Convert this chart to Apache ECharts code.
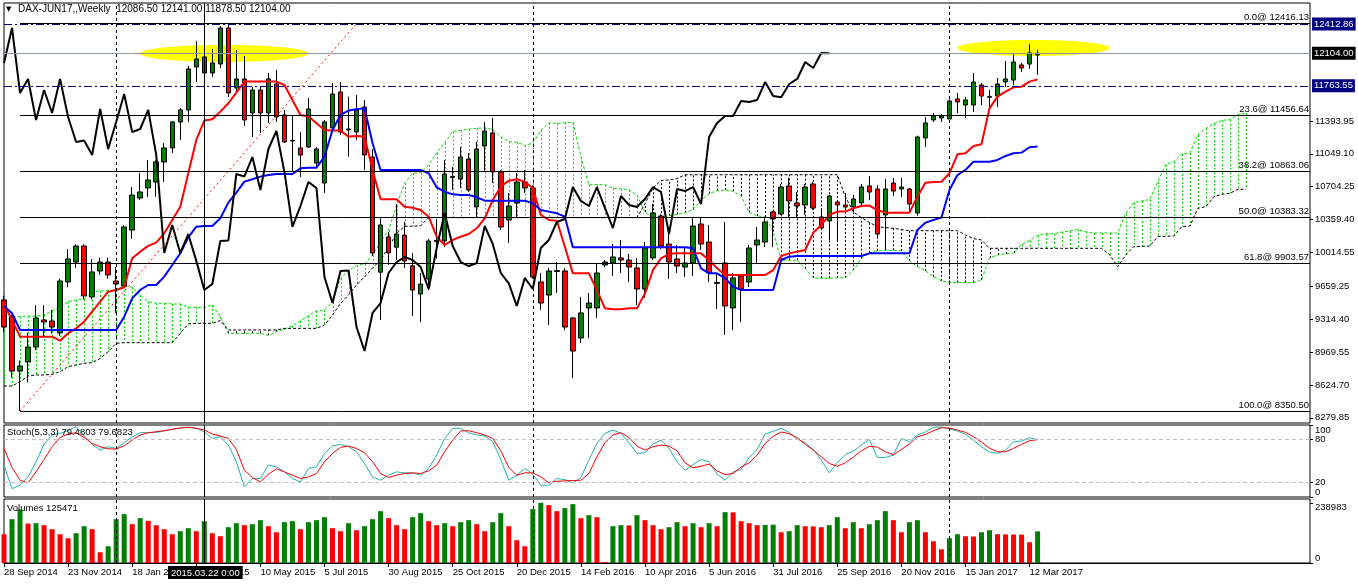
<!DOCTYPE html>
<html>
<head>
<meta charset="utf-8">
<title>DAX-JUN17 Weekly</title>
<script src="https://cdn.jsdelivr.net/npm/echarts@6.0.0/dist/echarts.min.js"></script>
<style>
html,body{margin:0;padding:0;background:#ffffff;}
#chart{width:1358px;height:584px;}
</style>
</head>
<body>
<div id="chart"></div>
<script>
// ---------- DATA ----------
const dateLabels = ['28 Sep 2014','23 Nov 2014','18 Jan 2015','15 Mar 2015','10 May 2015','5 Jul 2015','30 Aug 2015','25 Oct 2015','20 Dec 2015','14 Feb 2016','10 Apr 2016','5 Jun 2016','31 Jul 2016','25 Sep 2016','20 Nov 2016','15 Jan 2017','12 Mar 2017'];
const priceTicks = [8279.85, 8624.70, 8969.55, 9314.40, 9659.25, 10014.55, 10359.40, 10704.25, 11049.10, 11393.95];
const stochLevelTicks = [20, 80];
const stochEndTicks = [0, 100];

const opens = [9516,9337,8770,8865,9022,9306,9295,9170,9705,9914,
10082,9547,9820,9914,9715,9663,10250,10586,10691,10754,
10964,11111,11384,11510,11961,12066,11898,11992,12370,11740,
11835,11478,11719,11478,11782,11457,11184,11111,11121,10953,
10743,11321,11698,11300,11279,11541,11016,9808,10177,10070,
10197,9874,9578,9736,10130,10135,10800,10785,10995,10492,
11132,11268,10859,10355,10533,10754,10691,9705,9568,9815,
9820,9327,9117,9432,9432,9883,9904,9957,9935,9852,
9631,9957,10397,10103,9946,9862,9904,10313,10124,9700,
9904,9432,9768,9705,10093,10124,10439,10418,10712,10534,
10513,10733,10387,10345,10544,10513,10492,10534,10712,10680,
10408,10743,10680,10680,10429,11216,11405,11426,11415,11625,
11562,11562,11772,11650,11656,11803,11824,11982,11992,12086.5];
const highs = [9560,9360,8880,9170,9463,9463,9411,9740,10050,10100,
10100,9946,9960,9960,9862,10300,10702,10848,10985,10980,
11163,11394,11530,11971,12234,12080,12150,12390,12400,12139,
12076,11751,11751,11898,11929,11510,11457,11279,11635,11120,
11405,11793,11803,11650,11667,11614,11100,10387,10229,10523,
10334,10009,9799,10156,10366,10985,10911,11121,11058,11174,
11384,11426,10880,10639,10848,10880,10720,9799,9852,9914,
9850,9337,9547,9590,9893,9935,10103,10145,10000,9957,
10124,10523,10418,10282,10093,10072,10387,10376,10303,9799,
10334,9799,9778,10093,10282,10387,10450,10733,10796,10649,
10733,10754,10460,10618,10565,10639,10618,10733,10817,10722,
10785,10796,10796,10691,11240,11436,11478,11468,11620,11688,
11646,11898,11793,11719,11845,12024,12108,12003,12202,12141];
const lows = [9180,8700,8350.5,8650,8990,9130,9160,9140,9650,9850,
9520,9520,9780,9740,9380,9640,10156,10565,10597,10600,
10754,11058,11195,11384,11803,11646,11856,11950,11646,11700,
11342,11226,11268,11373,11384,11163,10869,10806,11111,10900,
10639,11300,11250,11020,11195,10880,9980,9306,9883,9935,
9852,9348,9285,9620,9950,10072,10670,10691,10649,10387,
10859,10743,10250,10114,10387,10639,9740,9411,9253,9590,
9200,8697,9065,9117,9327,9862,9768,9799,9705,9463,
9537,9935,10051,9736,9799,9757,9768,10040,9705,9421,
9149,9201,9285,9652,9904,10072,10072,10408,10387,10387,
10408,10460,10250,10145,10145,10460,10429,10492,10565,10166,
10040,10607,10597,10429,10400,11121,11384,11384,11415,11478,
11426,11489,11562,11531,11541,11751,11772,11908,11940,11878.5];
const closes = [9232,8770,8823,9022,9327,9285,9232,9715,9946,10082,
9558,9810,9914,9778,9684,10282,10617,10649,10775,10964,
11111,11384,11510,11940,12045,11898,12003,12370,11688,11835,
11405,11719,11478,11835,11436,11174,11190,11037,11520,11100,
11384,11677,11279,11310,11510,11038,10009,10303,10009,10207,
9926,9620,9683,10135,10140,10838,10812,11016,10670,11100,
11289,10859,10282,10502,10754,10691,9757,9484,9820,9825,
9232,8980,9380,9484,9799,9914,9967,9935,9862,9631,
10061,10429,10082,9914,9872,9904,10292,10103,9799,9690,
9453,9747,9631,10061,10145,10334,10366,10701,10555,10502,
10701,10481,10271,10607,10513,10492,10576,10701,10649,10208,
10680,10659,10701,10523,11226,11373,11447,11447,11604,11594,
11615,11803,11656,11642,11782,11835,12013,11950,12108,12104];

const tenkan = [9474,9306,9131,9131,9131,9131,9131,9089,9166,9218,
9288,9393,9498,9603,9621,9649,9953,10023,10083,10117,
10215,10355,10495,10845,11195,11398,11412,11492,11580,11692,
11807,11807,11807,11807,11807,11772,11615,11457,11440,11370,
11300,11293,11293,11230,11237,11230,10880,10572,10572,10572,
10495,10484,10460,10390,10180,10093,10145,10180,10208,10268,
10373,10565,10705,10768,10782,10758,10688,10408,10355,10348,
10075,9795,9795,9795,9620,9428,9418,9418,9428,9428,
9585,9830,9953,9998,10005,10005,10005,10005,9935,9848,
9778,9778,9778,9778,9778,9778,9830,9977,10005,10023,
10040,10222,10303,10408,10443,10443,10478,10502,10506,10460,
10432,10432,10432,10432,10600,10747,10754,10757,10845,11044,
11055,11132,11149,11527,11649,11702,11747,11754,11807,11831];
const kijun = [9453,9376,9201,9201,9201,9201,9201,9201,9201,9201,
9201,9201,9201,9201,9201,9341,9533,9621,9673,9673,
9761,9883,10006,10173,10285,10292,10292,10373,10537,10642,
10758,10782,10810,10827,10838,10838,10838,10897,10904,10904,
11020,11300,11457,11503,11516,11527,11160,10880,10880,10880,
10880,10880,10880,10845,10698,10652,10624,10617,10617,10593,
10558,10558,10558,10558,10558,10558,10530,10460,10443,10425,
10390,10068,10068,10068,10068,10068,10068,10068,10068,10068,
10068,10068,10068,10068,10068,10068,10058,9848,9795,9795,
9743,9655,9620,9620,9620,9620,9620,9935,9970,9977,
9977,9977,9977,9977,9977,9977,9977,9977,10005,10005,
10005,10005,10005,10005,10250,10327,10355,10380,10670,10827,
10880,10967,10967,10967,10985,11027,11055,11062,11118,11125];
const spanA = [9288,9340,9340,9347,9347,9358,9404,9439,9498,9516,
9523,9603,9610,9614,9621,9663,9649,9568,9498,9481,
9481,9474,9474,9439,9439,9439,9464,9341,9166,9166,
9166,9166,9166,9145,9184,9210,9245,9297,9350,9402,
9411,9495,9743,9822,9878,9895,9988,10119,10251,10509,
10740,10845,10852,10933,11059,11167,11283,11295,11309,11317,
11323,11305,11227,11177,11172,11137,11160,11297,11375,11367,
11377,11379,11020,10726,10726,10726,10688,10682,10670,10618,
10439,10373,10385,10399,10413,10431,10466,10562,10632,10663,
10670,10658,10609,10434,10399,10387,10233,9932,9932,9932,
9844,9748,9743,9743,9748,9748,9827,9949,10011,10033,
10037,10037,10032,9927,9865,9822,9761,9717,9699,9699,
9699,9699,9725,9956,9988,10000,10009,10100,10140,10193,
10210,10210,10228,10240,10256,10233,10219,10219,10219,10219,
10425,10537,10555,10569,10758,10936,10968,11050,11058,11247,
11317,11365,11401,11408,11463,11478];
const spanB = [8613,8613,8658,8718,8729,8729,8736,8764,8816,8834,
8851,8858,8903,8973,9061,9068,9068,9068,9068,9068,
9068,9068,9166,9264,9271,9271,9271,9300,9201,9201,
9201,9201,9201,9201,9201,9218,9218,9218,9218,9218,
9253,9358,9480,9570,9673,9760,9850,9935,10070,10215,
10290,10290,10295,10380,10380,10380,10380,10380,10380,10380,
10380,10380,10380,10380,10380,10380,10380,10380,10380,10380,
10380,10380,10380,10380,10380,10380,10380,10380,10380,10380,
10525,10690,10770,10775,10790,10830,10830,10830,10830,10830,
10830,10830,10830,10830,10830,10830,10830,10830,10830,10830,
10830,10830,10830,10830,10830,10600,10440,10380,10330,10285,
10275,10268,10255,10243,10243,10243,10243,10243,10243,10243,
10198,10160,10145,10058,10058,10058,10058,10058,10058,10058,
10058,10058,10058,10058,10058,10058,10058,10058,9990,9866,
9988,10075,10078,10082,10180,10185,10187,10285,10292,10478,
10495,10600,10625,10635,10677,10677];

const stochMain = [44.2,11.7,16.3,27.9,48.9,73.5,86.1,88.4,92.1,97.7,
85.1,73.5,65.1,69.8,67.5,75.4,83.7,89.3,89.3,89.8,
91.7,94.0,95.8,96.8,95.4,90.7,81.4,83.7,72.1,48.9,
14.0,25.6,25.6,44.2,41.9,34.9,25.6,21.0,39.6,41.9,
60.5,70.7,73.1,69.8,62.8,46.5,27.9,23.3,30.3,34.9,
33.5,33.5,30.3,39.6,58.2,81.4,95.4,95.4,89.3,86.1,
84.7,76.8,52.1,23.3,30.3,39.6,31.7,16.3,16.3,25.6,
24.2,19.6,27.0,51.2,74.4,88.4,93.0,88.4,75.4,60.5,
61.4,73.5,79.1,67.5,48.9,37.2,45.1,52.1,48.9,31.7,
23.3,34.9,38.2,54.9,66.1,87.5,91.2,95.4,89.8,80.5,
75.4,66.1,51.2,33.5,47.5,59.1,63.8,72.1,80.0,54.9,
54.9,58.2,81.4,76.8,86.1,90.3,96.8,97.2,94.4,91.7,
87.0,79.1,69.8,62.4,60.5,65.1,76.8,77.7,82.4,79.4803];
const stochSignal = [67.5,41.0,23.3,19.6,34.9,52.1,69.8,82.8,87.5,89.3,
82.8,74.4,69.8,67.0,66.5,71.2,79.1,86.1,89.3,90.7,
92.1,94.0,95.8,96.8,95.4,93.0,87.5,84.7,81.4,66.1,
37.2,27.0,21.0,31.7,39.1,34.9,30.3,25.6,27.9,32.6,
48.9,60.5,68.9,70.7,67.5,61.4,48.9,32.6,27.0,30.3,
32.6,33.5,32.6,36.3,44.2,62.8,79.1,91.7,92.1,89.3,
86.1,81.4,64.2,41.0,30.3,33.5,33.5,27.9,19.6,21.9,
22.4,22.8,23.3,32.6,55.9,75.4,86.1,89.3,82.8,70.7,
65.2,69.8,72.1,70.7,64.2,47.5,40.5,42.8,45.6,36.3,
31.2,32.6,41.9,47.5,58.2,74.4,84.2,90.3,87.9,82.4,
73.1,65.2,55.9,46.5,42.8,47.5,55.4,64.2,70.3,69.3,
62.8,58.6,66.1,73.5,83.7,87.0,92.1,96.3,95.8,93.0,
89.8,83.7,76.3,67.9,62.8,62.8,67.5,73.1,78.2,79.6823];

const volumes = [114182,173929,212432,156669,158000,150030,134098,114182,98250,118165,
146047,134098,42486,66385,173929,193844,154013,177912,167290,150030,
134098,114182,126132,138081,126132,165963,118165,106216,142064,157996,
150030,154013,169946,146047,122148,161979,165963,134098,161979,169946,
181895,138081,126132,157996,130115,146047,173929,205794,177912,150030,
134098,181895,197827,165963,150030,157996,146047,161979,169946,154013,
126132,161979,197827,146047,90284,66385,213760,238983,229692,205794,
217743,233675,177912,189861,181895,3983,146047,150030,149000,189861,
169946,150030,134098,142064,161979,146047,157996,142064,157996,146047,
201810,201000,165963,157996,150030,151000,152000,122148,126132,150030,
146047,145000,142064,150030,181895,138081,161979,138081,154013,169946,
205794,169946,122148,161979,169946,122148,86300,54436,98250,114182,
106216,105000,122148,130115,114182,113500,113000,112500,82317,125471];
const volumeTicks = [0, 238983];

const fibLevels = [0.0, 23.6, 38.2, 50.0, 61.8, 100.0];
const fibPrices = [12416.13, 11456.64, 10863.06, 10383.32, 9903.57, 8350.50];
const yearSeparators = [14, 66, 118];
const crosshairIndex = 25;
const ellipses = [[17, 38, 12013, 12192], [119, 138, 12076, 12244]];

// ---------- CHART ----------
const FONT = '"Liberation Sans", Arial, sans-serif';
const FS = 9.5;
const NCAT = 164;
const categories = Array.from({length: NCAT}, (_, i) => String(i));
const ohlc = opens.map((o, i) => [o, closes[i], lows[i], highs[i]]);
const chikou = closes.slice(26);
const hatch = spanA.map((a, i) => [i, a, spanB[i]]);
const volData = volumes.map((v, i) => ({
  value: v,
  itemStyle: {color: (i > 0 && v > volumes[i - 1]) ? '#008000' : '#ff0000'}
}));

const lblBase = {color: '#000', fontSize: FS, fontFamily: FONT};

const vLines = yearSeparators.map(x => ({xAxis: x, lineStyle: {color: '#000', type: [3, 3], width: 1}}))
  .concat([{xAxis: crosshairIndex, lineStyle: {color: '#000', type: 'solid', width: 1}}]);

const fibItems = fibLevels.map((lv, k) => [
  {coord: [2, fibPrices[k]], lineStyle: {color: '#000', width: 1, type: 'solid'},
   label: Object.assign({show: true, position: 'insideEndTop', distance: 1,
     formatter: lv.toFixed(1) + '@ ' + fibPrices[k].toFixed(2)}, lblBase)},
  {coord: [163, fibPrices[k]]}
]);
const diagItem = [
  {coord: [2, fibPrices[5]], lineStyle: {color: '#ff0000', width: 1, type: [2, 3]}},
  {coord: [44, fibPrices[0]]}
];
function hLine(v, color, bg, type) {
  return {yAxis: v, lineStyle: {color: color, width: 1, type: type},
    label: {show: true, position: 'end', distance: 2, formatter: v.toFixed(2), color: '#fff',
      backgroundColor: bg, padding: [2, 2, 1, 2], fontSize: FS, fontFamily: FONT}};
}
const hLines = [
  hLine(12412.86, '#000080', '#000080', [8, 3, 2, 3]),
  hLine(closes[129], '#8795a5', '#000000', 'solid'),
  hLine(11763.55, '#000080', '#000080', [8, 3, 2, 3])
];

const gridCommon = {left: 4, right: 48, show: true, borderColor: '#000', borderWidth: 1,
  containLabel: false, outerBoundsMode: 'none'};

const hiddenX = (gi) => ({type: 'category', gridIndex: gi, data: categories, boundaryGap: false,
  axisLine: {show: false}, axisTick: {show: false}, axisLabel: {show: false}, splitLine: {show: false}});

const showIdx = (i) => i % 8 === 0 && i <= 128;

const option = {
  animation: false,
  backgroundColor: '#ffffff',
  textStyle: {fontFamily: FONT},
  grid: [
    Object.assign({top: 3, height: 420}, gridCommon),
    Object.assign({top: 425, height: 72}, gridCommon),
    Object.assign({top: 499, height: 64}, gridCommon),
    Object.assign({}, gridCommon, {top: 425, height: 72, show: false})
  ],
  xAxis: [
    hiddenX(0), hiddenX(1),
    {type: 'category', gridIndex: 2, data: categories, boundaryGap: false,
      axisLine: {show: true, lineStyle: {color: '#000'}},
      axisTick: {show: true, interval: (i) => showIdx(i), length: 4, lineStyle: {color: '#000'}},
      axisLabel: Object.assign({show: true, interval: (i) => showIdx(i), align: 'left', margin: 4,
        formatter: (v, i) => dateLabels[Math.round(i / 8)]}, lblBase),
      splitLine: {show: false}},
    hiddenX(3)
  ],
  yAxis: [
    {type: 'value', gridIndex: 0, position: 'right', min: 8225, max: 12632, scale: true,
      axisLine: {show: false}, splitLine: {show: false},
      axisTick: {show: true, customValues: priceTicks, length: 3, lineStyle: {color: '#000'}},
      axisLabel: Object.assign({customValues: priceTicks, margin: 5, showMinLabel: true, showMaxLabel: true,
        formatter: (v) => v.toFixed(2)}, lblBase)},
    {type: 'value', gridIndex: 1, position: 'right', min: 0, max: 100,
      axisLine: {show: false}, splitLine: {show: false},
      axisTick: {show: true, customValues: stochLevelTicks, length: 3, lineStyle: {color: '#000'}},
      axisLabel: Object.assign({customValues: stochLevelTicks, margin: 5, showMinLabel: true, showMaxLabel: true,
        formatter: (v) => String(v)}, lblBase)},
    {type: 'value', gridIndex: 2, position: 'right', min: 0, max: 254000,
      axisLine: {show: false}, splitLine: {show: false},
      axisTick: {show: true, customValues: volumeTicks, length: 3, lineStyle: {color: '#000'}},
      axisLabel: Object.assign({customValues: volumeTicks, margin: 5, showMinLabel: true, showMaxLabel: true,
        formatter: (v) => String(Math.round(v)),
        verticalAlignMinLabel: 'bottom', verticalAlignMaxLabel: 'top'}, lblBase)},
    {type: 'value', gridIndex: 3, position: 'right', min: 0, max: 100,
      axisLine: {show: false}, splitLine: {show: false},
      axisTick: {show: true, customValues: stochEndTicks, length: 3, lineStyle: {color: '#000'}},
      axisLabel: Object.assign({customValues: stochEndTicks, margin: 5, showMinLabel: true, showMaxLabel: true,
        formatter: (v) => String(v),
        verticalAlignMinLabel: 'bottom', verticalAlignMaxLabel: 'top'}, lblBase)}
  ],
  series: [
    {type: 'custom', name: 'kumo', xAxisIndex: 0, yAxisIndex: 0, z: 1, silent: true,
      data: hatch, encode: {x: 0, y: [1, 2]},
      renderItem: (params, api) => {
        const i = api.value(0), a = api.value(1), b = api.value(2);
        const p1 = api.coord([i, a]), p2 = api.coord([i, b]);
        const x = Math.round(p1[0]) + 0.5;
        return {type: 'line', shape: {x1: x, y1: p1[1], x2: x, y2: p2[1]},
          style: {stroke: a >= b ? '#00dd00' : '#000000', lineWidth: 1, lineDash: [2, 2]}};
      }},
    {type: 'custom', name: 'marks', xAxisIndex: 0, yAxisIndex: 0, z: 1, silent: true,
      data: ellipses, encode: {x: [0, 1], y: [2, 3]},
      renderItem: (params, api) => {
        const p1 = api.coord([api.value(0), api.value(3)]);
        const p2 = api.coord([api.value(1), api.value(2)]);
        const cx = (p1[0] + p2[0]) / 2, cy = (p1[1] + p2[1]) / 2;
        const rx = Math.abs(p2[0] - p1[0]) / 2, ry = Math.abs(p2[1] - p1[1]) / 2;
        const pts = [];
        for (let k = 0; k < 90; k++) {
          const t = k / 90 * Math.PI * 2;
          pts.push([cx + rx * Math.cos(t), cy + ry * Math.sin(t)]);
        }
        return {type: 'polygon', shape: {points: pts}, style: {fill: '#ffff00'}};
      }},
    {type: 'line', name: 'objects', xAxisIndex: 0, yAxisIndex: 0, data: [], z: 2, silent: true, clip: false,
      markLine: {silent: true, symbol: ['none', 'none'], animation: false, label: {show: false},
        data: fibItems.concat([diagItem]).concat(hLines).concat(vLines)}},
    {type: 'line', name: 'Senkou A', xAxisIndex: 0, yAxisIndex: 0, data: spanA, z: 2, silent: true,
      showSymbol: false, symbol: 'none', lineStyle: {color: '#00dd00', width: 1, type: [3, 2]}},
    {type: 'line', name: 'Senkou B', xAxisIndex: 0, yAxisIndex: 0, data: spanB, z: 2, silent: true,
      showSymbol: false, symbol: 'none', lineStyle: {color: '#000000', width: 1, type: [3, 2]}},
    {type: 'candlestick', name: 'DAX-JUN17', xAxisIndex: 0, yAxisIndex: 0, data: ohlc, z: 3,
      barWidth: 5, silent: true,
      itemStyle: {color: '#008000', color0: '#ff0000', borderColor: '#000000', borderColor0: '#000000',
        borderColorDoji: '#000000', borderWidth: 1}},
    {type: 'line', name: 'Tenkan', xAxisIndex: 0, yAxisIndex: 0, data: tenkan, z: 4, silent: true,
      showSymbol: false, symbol: 'none', lineStyle: {color: '#ff0000', width: 2}},
    {type: 'line', name: 'Kijun', xAxisIndex: 0, yAxisIndex: 0, data: kijun, z: 4, silent: true,
      showSymbol: false, symbol: 'none', lineStyle: {color: '#0000ff', width: 2}},
    {type: 'line', name: 'Chikou', xAxisIndex: 0, yAxisIndex: 0, data: chikou, z: 4, silent: true,
      showSymbol: false, symbol: 'none', lineStyle: {color: '#000000', width: 2}},
    {type: 'line', name: 'Stoch main', xAxisIndex: 1, yAxisIndex: 1, data: stochMain, z: 3, silent: true,
      showSymbol: false, symbol: 'none', lineStyle: {color: '#20b2aa', width: 1},
      markLine: {silent: true, symbol: ['none', 'none'], animation: false, label: {show: false},
        data: [{yAxis: 20, lineStyle: {color: '#c0c0c0', type: [4, 3], width: 1}},
               {yAxis: 80, lineStyle: {color: '#c0c0c0', type: [4, 3], width: 1}}].concat(vLines)}},
    {type: 'line', name: 'Stoch signal', xAxisIndex: 1, yAxisIndex: 1, data: stochSignal, z: 4, silent: true,
      showSymbol: false, symbol: 'none', lineStyle: {color: '#ff0000', width: 1}},
    {type: 'bar', name: 'Volumes', xAxisIndex: 2, yAxisIndex: 2, data: volData, barWidth: 5, z: 3, silent: true,
      markLine: {silent: true, symbol: ['none', 'none'], animation: false, label: {show: false}, data: vLines}}
  ],
  graphic: [
    {type: 'text', left: 6, top: 6, z: 100, style: {text: '\u25BC', fill: '#000', font: '7px "DejaVu Sans"'}},
    {type: 'text', left: 18, top: 4, z: 100, style: {
      text: 'DAX-JUN17,,Weekly  ' + [opens[129], highs[129], lows[129], closes[129]].map(v => v.toFixed(2)).join(' '),
      fill: '#000', font: '10px "Liberation Sans"'}},
    {type: 'text', left: 7, top: 427, z: 100, style: {
      text: 'Stoch(5,3,3) ' + stochMain[129].toFixed(4) + ' ' + stochSignal[129].toFixed(4),
      fill: '#000', font: '9.5px "Liberation Sans"'}},
    {type: 'text', left: 7, top: 503, z: 100, style: {
      text: 'Volumes ' + volumes[129], fill: '#000', font: '9.5px "Liberation Sans"'}},
    {type: 'text', left: 168, top: 566, z: 100, style: {
      text: '2015.03.22 0:00', fill: '#fff', backgroundColor: '#000', padding: [2, 3, 1, 3],
      font: '9.5px "Liberation Sans"'}}
  ]
};

const chart = echarts.init(document.getElementById('chart'), null, {renderer: 'canvas'});
chart.setOption(option);
</script>
</body>
</html>
